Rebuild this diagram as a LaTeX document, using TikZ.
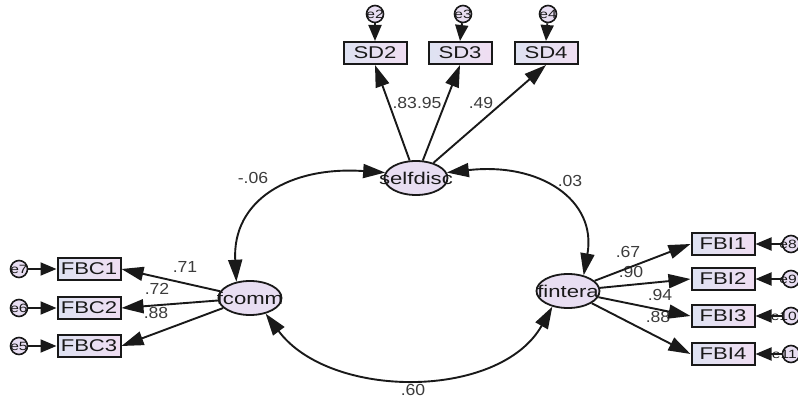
\documentclass[tikz,border=0pt]{standalone}
\usepackage{fontspec}
\setmainfont{Liberation Sans}
\newfontfamily\wide[FakeStretch=1.3]{Liberation Sans}
\newfontfamily\numf[FakeStretch=1.1]{Liberation Sans}
\usetikzlibrary{shapes.geometric,arrows.meta}
\definecolor{boxL}{RGB}{222,226,242}
\definecolor{boxR}{RGB}{240,222,242}
\definecolor{latfill}{RGB}{232,222,242}
\definecolor{ink}{RGB}{25,25,25}
\definecolor{numc}{RGB}{60,60,60}
\begin{document}
\begin{tikzpicture}[x=1pt,y=-1pt,
 obs/.style={rectangle,draw=ink,line width=2pt,left color=boxL,right color=boxR,minimum width=63pt,minimum height=22pt,inner sep=0pt,font=\wide\fontsize{17}{18}\selectfont,text=ink},
 lat/.style={ellipse,draw=ink,line width=1.8pt,fill=latfill,minimum width=63pt,minimum height=34pt,inner sep=0pt},
 lattext/.style={font=\wide\fontsize{17}{18}\selectfont,text=ink,inner sep=0pt},
 err/.style={circle,draw=ink,line width=1.6pt,fill=latfill,minimum size=17pt,inner sep=0pt},
 errtext/.style={font=\wide\fontsize{12}{12}\selectfont,text=ink,inner sep=0pt},
 num/.style={font=\numf\fontsize{16}{17}\selectfont,text=numc,inner sep=0pt},
 arr/.style={line width=1.9pt,draw=ink,-{Triangle[length=22pt,width=14pt]}},
 earr/.style={line width=1.9pt,draw=ink,-{Triangle[length=16pt,width=13pt]}},
 cov/.style={line width=1.9pt,draw=ink,{Triangle[length=22pt,width=14pt]}-{Triangle[length=22pt,width=14pt]}},
]
\useasboundingbox (0,0) rectangle (798,398);
\clip (0,0) rectangle (798,398);
\fill[white] (0,0) rectangle (798,398);

% latent variables
\node[lat] (selfdisc) at (416,178) {};
\node[lat] (comm) at (250,298) {};
\node[lat] (fintera) at (568,291) {};

% observed
\node[obs] (SD2) at (375,53) {SD2};
\node[obs] (SD3) at (460,53) {SD3};
\node[obs] (SD4) at (546,53) {SD4};
\node[obs] (FBC1) at (89,269) {FBC1};
\node[obs] (FBC2) at (89,308) {FBC2};
\node[obs] (FBC3) at (89,346) {FBC3};
\node[obs] (FBI1) at (723,244) {FBI1};
\node[obs] (FBI2) at (723,279) {FBI2};
\node[obs] (FBI3) at (723,316) {FBI3};
\node[obs] (FBI4) at (723,354) {FBI4};

% errors
\node[err] (e2) at (375,14) {};
\node[err] (e3) at (463,14) {};
\node[err] (e4) at (548,14) {};
\node[err] (e7) at (19,269) {};
\node[err] (e6) at (19,308) {};
\node[err] (e5) at (19,346) {};
\node[err] (e8) at (791,244) {};
\node[err] (e9) at (791,279) {};
\node[err] (e10) at (791,316) {};
\node[err] (e11) at (791,354) {};
\foreach \e in {e2,e3,e4,e7,e6,e5}{\node[errtext] at (\e) {\e};}
\foreach \e in {e8,e9,e10,e11}{\node[errtext,anchor=east] at ([xshift=6pt]\e.center) {\e};}

% labels (under arrows)
\node[num] at (253,178) {-.06};
\node[num] at (570,181) {.03};
\node[num] at (417,103) {.83.95};
\node[num] at (481,103) {.49};
\node[num] at (185,267) {.71};
\node[num] at (157,289) {.72};
\node[num] at (156,313) {.88};
\node[num] at (628,252) {.67};
\node[num] at (631,272) {.90};
\node[num] at (660,295) {.94};
\node[num] at (658,317) {.88};
\node[num] at (413,390) {.60};

% error arrows
\draw[earr] (e2) -- (SD2.north);
\draw[earr] (e3) -- (SD3.north);
\draw[earr] (e4) -- (SD4.north);
\draw[earr] (e7) -- (FBC1.west);
\draw[earr] (e6) -- (FBC2.west);
\draw[earr] (e5) -- (FBC3.west);
\draw[earr] (e8) -- (FBI1.east);
\draw[earr] (e9) -- (FBI2.east);
\draw[earr] (e10) -- (FBI3.east);
\draw[earr] (e11) -- (FBI4.east);

% loadings
\draw[arr] (selfdisc) -- (SD2.south);
\draw[arr] (selfdisc) -- (SD3.south);
\draw[arr] (selfdisc) -- (SD4.south);
\draw[arr] (comm) -- (FBC1.east);
\draw[arr] (comm) -- (FBC2.east);
\draw[arr] (comm) -- (FBC3.east);
\draw[arr] (fintera) -- (FBI1.west);
\draw[arr] (fintera) -- (FBI2.west);
\draw[arr] (fintera) -- (FBI3.west);
\draw[arr] (fintera) -- (FBI4.west);

% covariances
\draw[cov] (selfdisc.170) .. controls (290,166) and (232,200) .. (comm.130);
\draw[cov] (selfdisc.10) .. controls (540,162) and (597,200) .. (fintera.45);
\draw[cov] (comm.-45) .. controls (330,400) and (500,400) .. (fintera.225);

% latent texts on top
\node[lattext] at (selfdisc) {selfdisc};
\node[lattext] at (comm) {fcomm};
\node[lattext] at (fintera) {fintera};
\end{tikzpicture}
\end{document}
